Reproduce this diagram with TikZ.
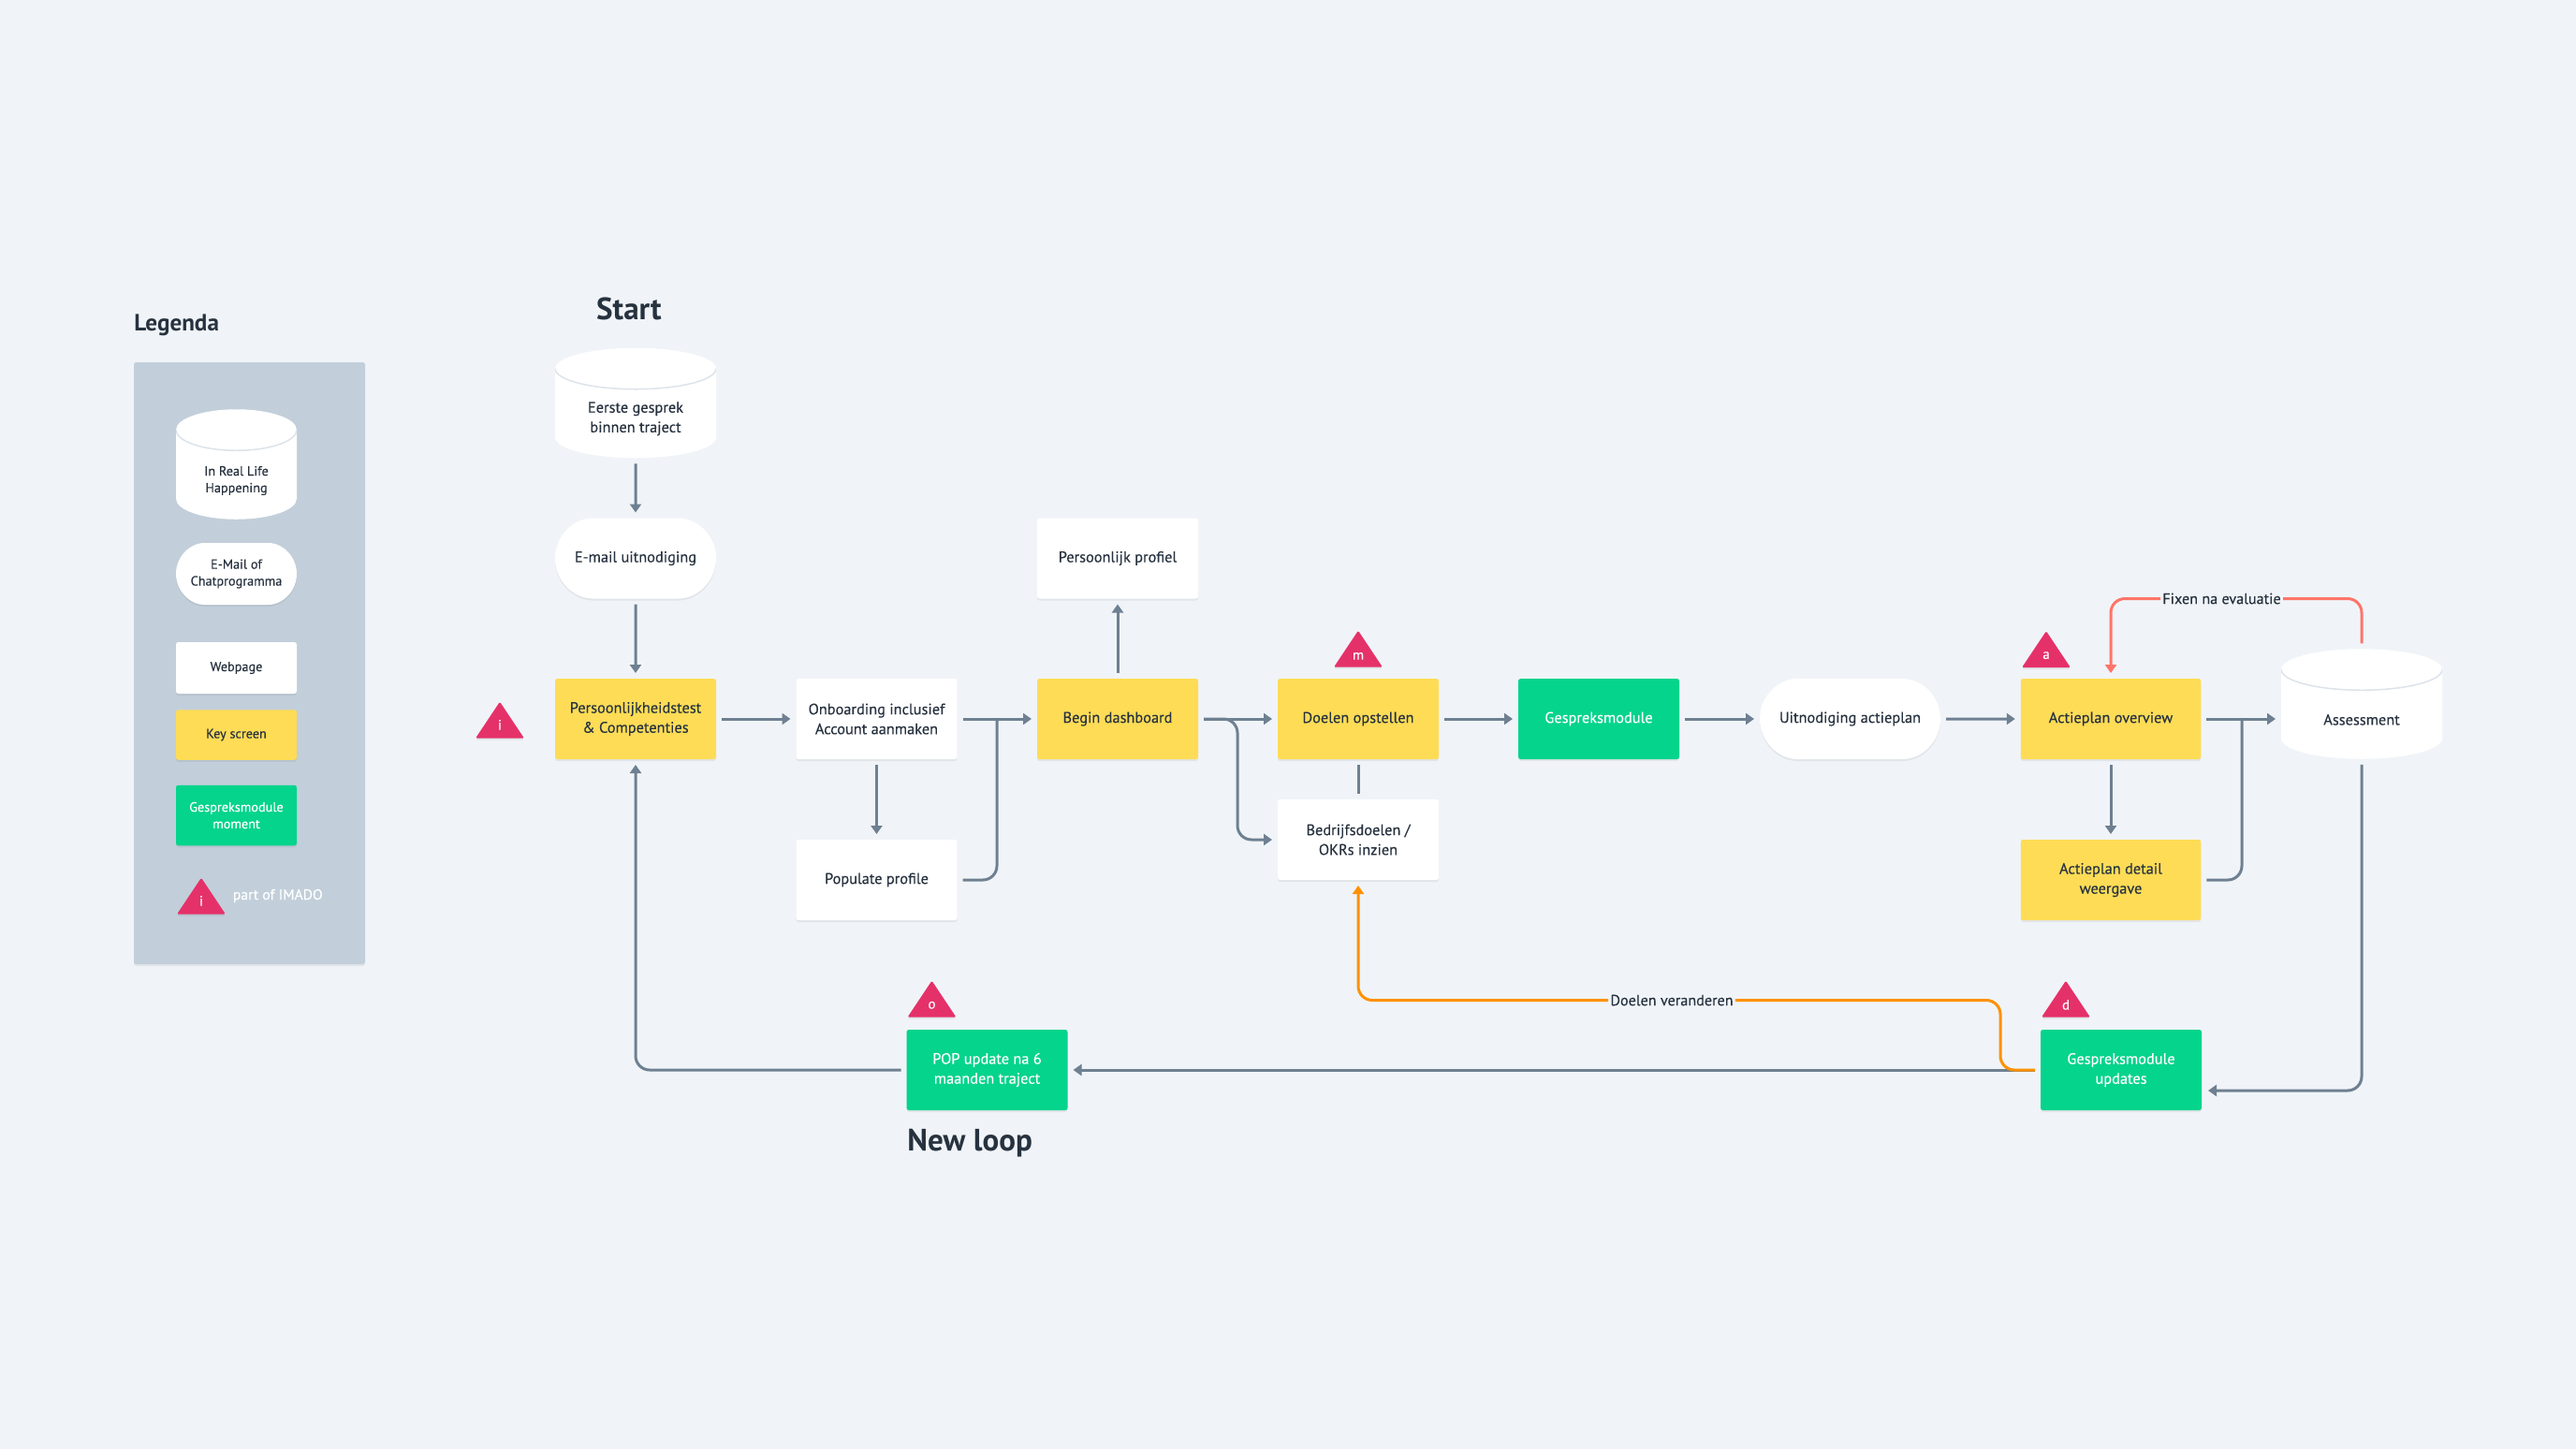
\documentclass[tikz,border=0pt]{standalone}
\usepackage{fontspec}
\setmainfont{PT Sans}
\newfontfamily\bodyfont{PT Sans}[FakeBold=.2]
\usetikzlibrary{shapes.geometric, shapes.misc, arrows.meta, positioning, calc, shadows}
\definecolor{pagebg}{HTML}{F0F4F8}
\definecolor{panelgrey}{HTML}{C2CFDA}
\definecolor{keyscreen}{HTML}{FEDC56}
\definecolor{talkgreen}{HTML}{04D48C}
\definecolor{inkdark}{HTML}{27323F}
\definecolor{flowgrey}{HTML}{6E8091}
\definecolor{markpink}{HTML}{E53169}
\definecolor{changeorange}{HTML}{FF9100}
\definecolor{fixsalmon}{HTML}{FF7568}
\definecolor{rimgrey}{HTML}{DDE3EA}
\newcommand{\drumdrop}{\rule{0pt}{.9cm}}

\begin{document}
\begin{tikzpicture}[
    softshadow/.style={general shadow={fill=black, opacity=.06, shadow xshift=0pt, shadow yshift=-.04cm}},
    plate/.style={rectangle, minimum width=3.44cm, minimum height=1.72cm, inner sep=0pt, outer sep=.12cm, align=center, text=inkdark, font=\bodyfont\fontsize{9.3}{12}\selectfont},
    box/.style={plate, rounded corners=.05cm, softshadow},
    pill/.style={box, rounded rectangle},
    drum/.style={plate, minimum width=2*#1cm, minimum height=2.35cm, path picture={
        \fill[white] ([yshift=-.44cm]path picture bounding box.north west) arc[start angle=180, end angle=0, x radius=#1cm, y radius=.44cm] -- ([yshift=.44cm]path picture bounding box.south east) arc[start angle=0, end angle=-180, x radius=#1cm, y radius=.44cm] -- cycle;
        \draw[rimgrey, line width=.03cm] ([yshift=-.44cm]path picture bounding box.north west) arc[start angle=180, end angle=360, x radius=#1cm, y radius=.44cm];
    }},
    drum/.default=1.72,
    legendbox/.style={minimum width=2.58cm, font=\bodyfont\fontsize{8.1}{10.2}\selectfont},
    imadomark/.style={isosceles triangle, isosceles triangle stretches, shape border rotate=90, anchor=lower side, minimum width=1.04cm, minimum height=.78cm, inner sep=0pt, rounded corners=.03cm, fill=markpink, text=white, font=\bodyfont\fontsize{8.5}{9}\selectfont, softshadow},
    heading/.style={text=inkdark, inner sep=0pt, font=\bfseries\fontsize{14.3}{16}\selectfont},
    flow/.style={draw=flowgrey, line width=.06cm, rounded corners=.3cm, -{Triangle[width=.24cm, length=.18cm]}},
    link/.style={draw=flowgrey, line width=.06cm, rounded corners=.3cm},
    change/.style={draw=changeorange, line width=.06cm, rounded corners=.3cm},
    fix/.style={draw=fixsalmon, line width=.06cm, rounded corners=.3cm},
    edgetext/.style={fill=pagebg, inner sep=.04cm, text=inkdark, font=\bodyfont\fontsize{9.2}{12}\selectfont}
]
    \fill[pagebg] (0,0) rectangle (55.04,-30.96);
    \useasboundingbox (0,0) rectangle (55.04,-30.96);

    \node[heading, anchor=west] (legendtitle) at (2.86,-6.95) {Legenda};
    \node[rectangle, rounded corners=.05cm, fill=panelgrey, minimum width=4.94cm, minimum height=12.86cm, softshadow] (panel) at (5.33,-14.17) {};
    \node[drum=1.29, font=\bodyfont\fontsize{8.1}{10.2}\selectfont] (legenddrum) at (5.05,-9.92) {\drumdrop In Real Life\\Happening};
    \node[pill, legendbox, fill=white, minimum height=1.32cm] (legendpill) at (5.05,-12.26) {E-Mail of\\Chatprogramma};
    \node[box, legendbox, fill=white, minimum height=1.1cm] (legendweb) at (5.05,-14.27) {Webpage};
    \node[box, legendbox, fill=keyscreen, minimum height=1.07cm] (legendkey) at (5.05,-15.7) {Key screen};
    \node[box, legendbox, fill=talkgreen, text=white, minimum height=1.29cm] (legendtalk) at (5.05,-17.42) {Gespreksmodule\\moment};
    \node[imadomark] (legendmark) at (4.3,-19.54) {i};
    \node[anchor=west, inner sep=0pt, text=white, font=\bodyfont\fontsize{8.9}{10}\selectfont] (legendtext) at (4.97,-19.14) {part of IMADO};

    \node[heading, font=\bfseries\fontsize{18.8}{20}\selectfont] (starttitle) at (13.44,-6.6) {Start};
    \node[drum] (first) at (13.58,-8.61) {\drumdrop Eerste gesprek\\binnen traject};
    \node[pill, fill=white] (invite) at (13.58,-11.93) {E-mail uitnodiging};
    \node[box, fill=keyscreen] (test) at (13.58,-15.36) {Persoonlijkheidstest\\\& Competenties};
    \node[box, fill=white] (onboard) at (18.73,-15.36) {Onboarding inclusief\\Account aanmaken};
    \node[box, fill=white] (populate) at (18.73,-18.8) {Populate profile};
    \node[box, fill=keyscreen] (dashboard) at (23.88,-15.36) {Begin dashboard};
    \node[box, fill=white] (profile) at (23.88,-11.93) {Persoonlijk profiel};
    \node[box, fill=keyscreen] (goals) at (29.02,-15.36) {Doelen opstellen};
    \node[box, fill=white] (okrs) at (29.02,-17.94) {Bedrijfsdoelen /\\OKRs inzien};
    \node[box, fill=talkgreen, text=white] (talk) at (34.16,-15.36) {Gespreksmodule};
    \node[pill, fill=white, minimum width=3.86cm] (planinvite) at (39.53,-15.36) {Uitnodiging actieplan};
    \node[box, fill=keyscreen, minimum width=3.85cm] (plan) at (45.1,-15.36) {Actieplan overview};
    \node[box, fill=keyscreen, minimum width=3.85cm] (plandetail) at (45.1,-18.8) {Actieplan detail\\weergave};
    \node[drum] (assess) at (50.46,-15.04) {\drumdrop Assessment};
    \node[box, fill=talkgreen, text=white] (updates) at (45.32,-22.86) {Gespreksmodule\\updates};
    \node[box, fill=talkgreen, text=white] (pop) at (21.09,-22.86) {POP update na 6\\maanden traject};
    \node[heading, anchor=west, font=\bfseries\fontsize{18.8}{20}\selectfont] (looptitle) at (19.38,-24.42) {New loop};

    \node[imadomark] (marki) at (10.68,-15.78) {i};
    \node[imadomark] (markm) at (29.02,-14.26) {m};
    \node[imadomark] (marka) at (43.72,-14.27) {a};
    \node[imadomark] (markd) at (44.14,-21.74) {d};
    \node[imadomark] (marko) at (19.91,-21.74) {o};

    \coordinate (joinpopulate) at (21.3,-15.36);
    \coordinate (branchokrs) at (26.44,-15.36);
    \coordinate (joindetail) at (47.9,-15.36);
    \coordinate (updatesin) at (47.18,-23.3);
    \node[edgetext] (fixtext) at (47.47,-12.79) {Fixen na evaluatie};
    \node[edgetext] (changetext) at (35.72,-21.37) {Doelen veranderen};
    \coordinate (changebend) at (42.74,-21.37);

    \draw[flow] (first) -- (invite);
    \draw[flow] (invite) -- (test);
    \draw[flow] (test) -- (onboard);
    \draw[flow] (onboard) -- (populate);
    \draw[flow] (onboard) -- (dashboard);
    \draw[link] (populate.east) -| (joinpopulate);
    \draw[flow] (dashboard) -- (profile);
    \draw[flow] (dashboard) -- (goals);
    \draw[flow] (dashboard.east) -- (branchokrs) |- (okrs.west);
    \draw[link] (goals) -- (okrs);
    \draw[flow] (goals) -- (talk);
    \draw[flow] (talk) -- (planinvite);
    \draw[flow] (planinvite) -- (plan);
    \draw[flow] (plan) -- (plandetail);
    \draw[flow] (plan.east) -- (assess.west |- plan.east);
    \draw[link] (plandetail.east) -| (joindetail);
    \draw[flow] (assess.south) |- (updatesin);
    \draw[flow] (updates) -- (pop);
    \draw[flow] (pop.west) -| (test.south);
    \draw[change] (updates.west) -| (changebend) -- (changetext.east);
    \draw[change, -{Triangle[width=.24cm, length=.18cm]}] (changetext.west) -| (okrs.south);
    \draw[fix] (assess.north) |- (fixtext.east);
    \draw[fix, -{Triangle[width=.24cm, length=.18cm]}] (fixtext.west) -| (plan.north);
\end{tikzpicture}
\end{document}
